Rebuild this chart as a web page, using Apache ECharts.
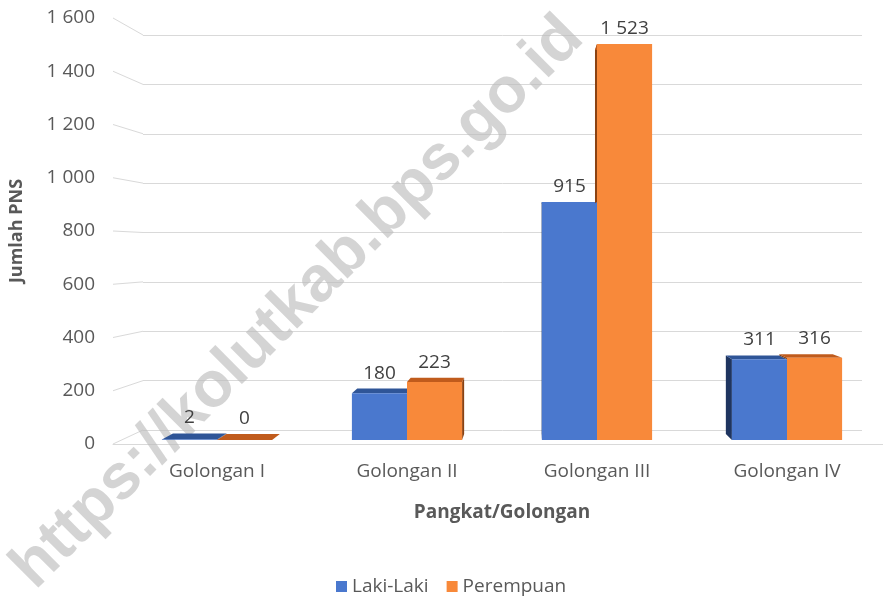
<!DOCTYPE html>
<html>
<head>
<meta charset="utf-8">
<script src="https://cdn.jsdelivr.net/npm/echarts@6/dist/echarts.min.js"></script>
<style>html,body{margin:0;padding:0;background:#fff;}#c{width:883px;height:597px;}</style>
</head>
<body>
<div id="c"></div>
<script>
const categories = ['Golongan I', 'Golongan II', 'Golongan III', 'Golongan IV'];
const lakiLaki = [2, 180, 915, 311];
const perempuan = [0, 223, 1523, 316];
const seriesNames = ['Laki-Laki', 'Perempuan'];
const yMin = 0, yMax = 1600, yStep = 200;
const watermarkText = 'https://kolutkab.bps.go.id';

const FONT = '"Open Sans", "Noto Sans", sans-serif';
const TXT = '#595959';
const VX = 530, VY = 240, S = 0.97;

function fmt(v) { return String(v).replace(/\B(?=(\d{3})+(?!\d))/g, ' '); }

function makeRender(side, other, front, sideCol, topCol) {
  return function (params, api) {
    const ci = api.value(0), v = api.value(1);
    const c = api.coord([ci, v]);
    const b = api.coord([ci, 0]);
    const nb = api.coord([ci, other[ci]]);
    const band = api.size([1, 0])[0];
    const bw = band * 0.29;
    const x0 = side < 0 ? c[0] - bw : c[0];
    const x1 = x0 + bw;
    const yT = c[1], yB = b[1];
    const P = (x, y) => [VX + (x - VX) * S, VY + (y - VY) * S];
    const children = [];
    let sx = null, inner = false;
    if (x0 > VX) { sx = x0; inner = side > 0; }
    else if (x1 < VX) { sx = x1; inner = side < 0; }
    if (sx !== null) {
      const yc = inner ? Math.min(yB, nb[1]) : yB;
      if (yc > yT) {
        children.push({ type: 'polygon', shape: { points: [[sx, yT], P(sx, yT), P(sx, yc), [sx, yc]] }, style: { fill: sideCol } });
      }
    }
    children.push({ type: 'polygon', shape: { points: [[x0, yT], [x1, yT], P(x1, yT), P(x0, yT)] }, style: { fill: topCol } });
    children.push({ type: 'rect', shape: { x: x0, y: yT, width: bw, height: Math.max(0, yB - yT) }, style: { fill: front } });
    const topY = Math.min(yT, P(x0, yT)[1]);
    children.push({ type: 'text', style: { text: fmt(v), x: (x0 + x1) / 2, y: topY - 6, align: 'center', verticalAlign: 'bottom', fill: '#404040', fontSize: 19, fontFamily: FONT } });
    return { type: 'group', children };
  };
}

const chart = echarts.init(document.getElementById('c'), null, { renderer: 'canvas' });
const option = {
  animation: false,
  backgroundColor: '#ffffff',
  textStyle: { fontFamily: FONT },
  grid: [
    { left: 122, right: 1, top: 24, bottom: 157 },
    { left: 113, right: 0, top: 18, bottom: 153 },
    { left: 143, right: 21, top: 35, bottom: 167 }
  ],
  xAxis: [
    { type: 'category', gridIndex: 0, data: categories, axisLine: { show: false }, axisTick: { show: false },
      axisLabel: { fontSize: 19, color: TXT, margin: 22, fontFamily: FONT },
      name: 'Pangkat/Golongan', nameLocation: 'middle', nameGap: 63,
      nameTextStyle: { fontSize: 19, fontWeight: 'bold', color: TXT, fontFamily: FONT } },
    { type: 'category', gridIndex: 1, data: categories, axisLabel: { show: false }, axisTick: { show: false },
      axisLine: { show: true, lineStyle: { color: '#d9d9d9', width: 1 } } },
    { type: 'category', gridIndex: 2, data: categories, show: false }
  ],
  yAxis: [
    { type: 'value', gridIndex: 0, min: yMin, max: yMax, interval: yStep, show: false },
    { type: 'value', gridIndex: 1, min: yMin, max: yMax, interval: yStep,
      axisLine: { show: false }, axisTick: { show: false }, splitLine: { show: false },
      axisLabel: { fontSize: 19, color: TXT, margin: 18, fontFamily: FONT, formatter: fmt },
      name: 'Jumlah PNS', nameLocation: 'middle', nameRotate: 90, nameGap: 87,
      nameTextStyle: { fontSize: 18, fontWeight: 'bold', color: TXT, fontFamily: FONT } },
    { type: 'value', gridIndex: 2, min: yMin, max: yMax, interval: yStep,
      axisLine: { show: false }, axisTick: { show: false }, axisLabel: { show: false },
      splitLine: { show: true, lineStyle: { color: '#d9d9d9', width: 1 } } }
  ],
  legend: {
    data: seriesNames.map(n => ({ name: n, icon: 'rect' })),
    left: 331, top: 572, itemWidth: 11, itemHeight: 11, itemGap: 18,
    textStyle: { fontSize: 19, color: TXT, fontFamily: FONT }
  },
  series: [
    { name: seriesNames[0], type: 'custom', xAxisIndex: 0, yAxisIndex: 0, z: 3,
      itemStyle: { color: '#4A78CE' }, encode: { x: 0, y: 1 },
      data: lakiLaki.map((v, i) => [i, v]),
      renderItem: makeRender(-1, perempuan, '#4A78CE', '#1F3560', '#2F5597') },
    { name: seriesNames[1], type: 'custom', xAxisIndex: 0, yAxisIndex: 0, z: 3,
      itemStyle: { color: '#F8893A' }, encode: { x: 0, y: 1 },
      data: perempuan.map((v, i) => [i, v]),
      renderItem: makeRender(1, lakiLaki, '#F8893A', '#8A4212', '#C05B1C') }
  ]
};
chart.setOption(option);

const graphics = [];
for (let v = yMin; v <= yMax; v += yStep) {
  const yf = chart.convertToPixel({ yAxisIndex: 1 }, v);
  const yb = chart.convertToPixel({ yAxisIndex: 2 }, v);
  graphics.push({ type: 'line', z: 0, silent: true,
    shape: { x1: 113, y1: yf, x2: 143, y2: yb },
    style: { stroke: '#d9d9d9', lineWidth: 1 } });
}
graphics.push({
  type: 'text', z: 1, silent: true, x: 298, y: 303, rotation: Math.PI / 4,
  style: { text: watermarkText, align: 'center', verticalAlign: 'middle',
    fontSize: 64, fontWeight: 'bold', fontFamily: '"Liberation Sans", Arial, sans-serif',
    fill: 'rgba(185,185,185,0.62)' }
});
chart.setOption({ graphic: graphics });
</script>
</body>
</html>
